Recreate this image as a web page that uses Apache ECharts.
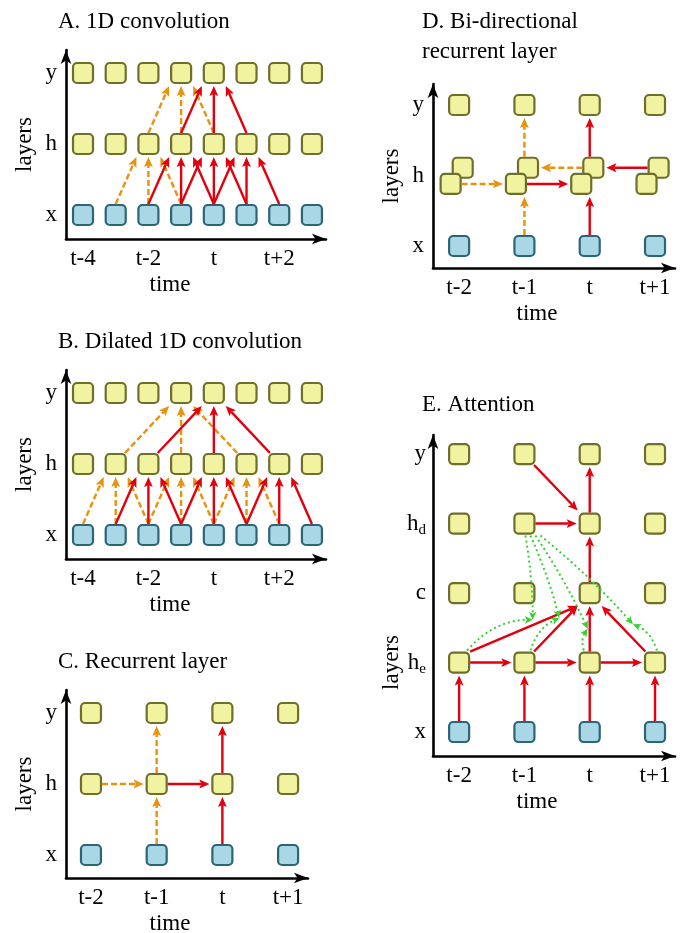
<!DOCTYPE html>
<html><head><meta charset="utf-8">
<script src="https://cdn.jsdelivr.net/npm/echarts@6/dist/echarts.min.js"></script>
<style>html,body{margin:0;padding:0;background:#fff}#c{width:686px;height:933px}</style>
</head><body><div id="c"></div>
<script>
// ---------------- data ----------------
const convTimes = ['t-4','t-3','t-2','t-1','t','t+1','t+2','t+3'];
const convTickIdx = [0, 2, 4, 6];
const rnnTimes = ['t-2','t-1','t','t+1'];
const rnnTickIdx = [0, 1, 2, 3];
const stdLayers = ['x','h','y'];
const attnLayers = ['x','h_e','c','h_d','y'];

// edges: [from, to]  (layer code + time index)
const convOrange = [['x1','h2'],['x2','h2'],['x3','h2'],['h2','y3'],['h3','y3'],['h4','y3']];
const convRed = [['x2','h3'],['x3','h3'],['x4','h3'],['x3','h4'],['x4','h4'],['x5','h4'],
                 ['x4','h5'],['x5','h5'],['x6','h5'],['h3','y4'],['h4','y4'],['h5','y4']];
const dilOrange = [['x0','h1'],['x1','h1'],['x2','h1'],['x2','h3'],['x3','h3'],['x4','h3'],
                   ['x4','h5'],['x5','h5'],['x6','h5'],['h1','y3'],['h3','y3'],['h5','y3']];
const dilRed = [['x1','h2'],['x2','h2'],['x3','h2'],['x3','h4'],['x4','h4'],['x5','h4'],
                ['x5','h6'],['x6','h6'],['x7','h6'],['h2','y4'],['h4','y4'],['h6','y4']];
const recOrange = [['h0','h1'],['x1','h1'],['h1','y1']];
const recRed = [['h1','h2'],['x2','h2'],['h2','y2']];
const biOrange = [['hf0','hf1'],['x1','hf1'],['hb1','y1'],['hb2','hb1']];
const biRed = [['hf1','hf2'],['x2','hf2'],['hb2','y2'],['hb3','hb2']];
const attnRed = [['x0','he0'],['x1','he1'],['x2','he2'],['x3','he3'],
                 ['he0','he1'],['he1','he2'],['he2','he3'],
                 ['he0','c2'],['he1','c2'],['he2','c2'],['he3','c2'],
                 ['c2','hd2'],['hd1','hd2'],['y1','hd2'],['hd2','y2']];
const attnWeights = [0, 1, 2, 3];   // encoder steps whose h_e -> c link is weighted using h_d(t-1)

// ---------------- style / layout ----------------
const FONT = 'Liberation Serif', FS = 23;
const RED = '#e2000e', ORANGE = '#e8920e', GREEN = '#37d037';
const YEL = '#f1f3a1', OLIVE = '#6f6f2c', BLUE = '#a9d7e6', TEAL = '#2b6577';
const HALF = 11, GAP = 2, LW = 2.4;
const BI_OFFSET = { hb: [0.055, 0.11], hf: [-0.13, -0.12] };
const STD_CODE = { x: 0, h: 1, y: 2, hf: 1, hb: 1 };
const ATTN_CODE = { x: 0, he: 1, c: 2, hd: 3, y: 4 };

const panels = [
  { title: 'A. 1D convolution', titlePos: [58, 7], times: convTimes, ticks: convTickIdx, layers: stdLayers, code: STD_CODE,
    grid: { left: 66, top: 50, width: 260, height: 189 }, xr: [-0.52, 7.43], yr: [-0.338, 2.324],
    orange: convOrange, red: convRed, timeShift: 26, layersShift: 0, labelMargin: 9 },
  { title: 'B. Dilated 1D convolution', titlePos: [58, 327], times: convTimes, ticks: convTickIdx, layers: stdLayers, code: STD_CODE,
    grid: { left: 66, top: 370, width: 260, height: 189 }, xr: [-0.52, 7.43], yr: [-0.338, 2.324],
    orange: dilOrange, red: dilRed, timeShift: 26, layersShift: 0, labelMargin: 9 },
  { title: 'C. Recurrent layer', titlePos: [58, 647], times: rnnTimes, ticks: rnnTickIdx, layers: stdLayers, code: STD_CODE,
    grid: { left: 66, top: 690, width: 242, height: 188 }, xr: [-0.38, 3.303], yr: [-0.324, 2.324],
    orange: recOrange, red: recRed, timeShift: 17, layersShift: 0, labelMargin: 9 },
  { title: 'D. Bi-directional\nrecurrent layer', titlePos: [422, 7], times: rnnTimes, ticks: rnnTickIdx, layers: stdLayers, code: STD_CODE, bidir: true,
    grid: { left: 433, top: 84, width: 242, height: 184 }, xr: [-0.40, 3.306], yr: [-0.312, 2.298],
    orange: biOrange, red: biRed, timeShift: 17, layersShift: 0, labelMargin: 9 },
  { title: 'E. Attention', titlePos: [422, 390], times: rnnTimes, ticks: rnnTickIdx, layers: attnLayers, code: ATTN_CODE, attention: true,
    grid: { left: 433, top: 435, width: 242, height: 321 }, xr: [-0.40, 3.306], yr: [-0.345, 4.274],
    orange: [], red: attnRed, timeShift: 17, layersShift: 67, labelMargin: 7 }
];

function resolve(p, key) {
  const m = key.match(/^([a-z]+)(\d+)$/);
  const code = m[1], i = +m[2];
  const l = p.code[code];
  const off = BI_OFFSET[code] || [0, 0];
  return { t: i + off[0], l: l + off[1], col: i };
}

function head(tip, ux, uy, color, len, hw) {
  len = len || 10; hw = hw || 4.4;
  const bx = tip[0] - ux * len, by = tip[1] - uy * len;
  return { type: 'polygon', shape: { points: [[tip[0], tip[1]], [bx - uy * hw, by + ux * hw], [bx + ux * 2, by + uy * 2], [bx + uy * hw, by - ux * hw]] },
           style: { fill: color } };
}
function arrow(p0, p1, color, dash, width) {
  const dx = p1[0] - p0[0], dy = p1[1] - p0[1], L = Math.hypot(dx, dy) || 1, ux = dx / L, uy = dy / L;
  const e = [p1[0] - ux * 8, p1[1] - uy * 8];
  const st = { stroke: color, lineWidth: width, fill: null };
  if (dash) st.lineDash = dash;
  return [{ type: 'line', shape: { x1: p0[0], y1: p0[1], x2: e[0], y2: e[1] }, style: st }, head(p1, ux, uy, color)];
}
// geometry of a link between two boxes
function ends(S, T, sameCol, colX, sameRow) {
  if (sameCol) { const sy = Math.sign(T[1] - S[1]); return [[colX, S[1] + sy * HALF], [colX, T[1] - sy * (HALF + GAP)]]; }
  if (sameRow) { const sx = Math.sign(T[0] - S[0]); return [[S[0] + sx * HALF, S[1]], [T[0] - sx * (HALF + GAP), S[1]]]; }
  const dx = T[0] - S[0], dy = T[1] - S[1], sx = Math.sign(dx), sy = Math.sign(dy);
  const k = Math.min(1, Math.max(0, (Math.abs(dx) / Math.abs(dy) - 0.5) * 2));
  return [[S[0] + sx * HALF * k, S[1] + sy * HALF], [T[0] - sx * 12, T[1] - sy * (HALF + GAP)]];
}

function edgeRenderer(color, dash) {
  return function (params, api) {
    const S = api.coord([api.value(0), api.value(1)]);
    const T = api.coord([api.value(2), api.value(3)]);
    const c1 = api.value(4), c2 = api.value(5);
    const colX = api.coord([c1, 0])[0];
    const pe = ends(S, T, c1 === c2, colX, api.value(1) === api.value(3));
    return { type: 'group', children: arrow(pe[0], pe[1], color, dash, LW) };
  };
}
function nodeRender(params, api) {
  const c = api.coord([api.value(0), api.value(1)]);
  const k = api.value(2);
  return { type: 'rect', shape: { x: c[0] - 10, y: c[1] - 10, width: 20, height: 20, r: 4 },
           style: { fill: k ? YEL : BLUE, stroke: k ? OLIVE : TEAL, lineWidth: 2.2 } };
}
// attention weight curves (green dotted)
const ATTN_F = [0.6, 0.66, 0.5, 0.45], ATTN_D = [5, 5, 2, 10], ATTN_SRC_DX = [8, 6, -6, 2];
function curve(p0, tip, bulge) {
  const dx = tip[0] - p0[0], dy = tip[1] - p0[1], L = Math.hypot(dx, dy);
  let nx = dy / L, ny = -dx / L;
  if (ny > 0 || (Math.abs(ny) < 0.05 && nx > 0)) { nx = -nx; ny = -ny; }
  const cp = [(p0[0] + tip[0]) / 2 + nx * bulge * L, (p0[1] + tip[1]) / 2 + ny * bulge * L];
  const tx = tip[0] - cp[0], ty = tip[1] - cp[1], tl = Math.hypot(tx, ty), ux = tx / tl, uy = ty / tl;
  const e = [tip[0] - ux * 6, tip[1] - uy * 6];
  return [{ type: 'bezierCurve', shape: { x1: p0[0], y1: p0[1], x2: e[0], y2: e[1], cpx1: cp[0], cpy1: cp[1] },
            style: { stroke: GREEN, lineWidth: 2, lineDash: [2, 3], fill: null } }, head(tip, ux, uy, GREEN, 8, 3.8)];
}
function attnRender(params, api) {
  const i = api.value(0);
  const he = api.coord([i, ATTN_CODE.he]), c = api.coord([2, ATTN_CODE.c]), hd = api.coord([1, ATTN_CODE.hd]);
  const pe = ends(he, c, i === 2, api.coord([i, 0])[0], false);
  const f = ATTN_F[i], d = ATTN_D[i];
  const vx = pe[1][0] - pe[0][0], vy = pe[1][1] - pe[0][1], vl = Math.hypot(vx, vy);
  let nx = vy / vl, ny = -vx / vl; if (ny > 0 || (Math.abs(ny) < 0.05 && nx > 0)) { nx = -nx; ny = -ny; }
  const P = [pe[0][0] + vx * f + nx * d, pe[0][1] + vy * f + ny * d];
  const fromHd = [hd[0] + 1 + 5 * i, hd[1] + HALF + 1];
  const fromHe = [he[0] + ATTN_SRC_DX[i], he[1] - HALF - 1];
  return { type: 'group', children: curve(fromHd, P, 0.04).concat(curve(fromHe, P, 0.22)) };
}

function rowLabel(name) {
  const m = name.match(/^(\w)_(\w)$/);
  return m ? '{m|' + m[1] + '}{s|' + m[2] + '}' : '{m|' + name + '}';
}

const grids = [], xAxes = [], yAxes = [], series = [], titles = [];
panels.forEach(function (p, gi) {
  grids.push(Object.assign({ containLabel: false, outerBoundsMode: 'none' }, p.grid));
  titles.push({ text: p.title, left: p.titlePos[0], top: p.titlePos[1], padding: 0,
    textStyle: { fontFamily: FONT, fontSize: FS, fontWeight: 'normal', color: '#000', lineHeight: 30 } });
  const lineCfg = { show: true, onZero: false, symbol: ['none', 'arrow'], symbolSize: [8, 14], lineStyle: { color: '#000', width: 2.6 } };
  xAxes.push({ gridIndex: gi, type: 'value', min: p.xr[0], max: p.xr[1], axisLine: lineCfg,
    axisTick: { show: false }, splitLine: { show: false },
    axisLabel: { customValues: p.ticks, formatter: function (v) { return p.times[Math.round(v)]; }, color: '#000', fontFamily: FONT, fontSize: FS, margin: 8 },
    name: 'time', nameLocation: 'middle', nameGap: 34,
    nameTextStyle: { color: '#000', fontFamily: FONT, fontSize: FS, padding: [0, 2 * p.timeShift, 0, 0] } });
  yAxes.push({ gridIndex: gi, type: 'value', min: p.yr[0], max: p.yr[1], axisLine: lineCfg,
    axisTick: { show: false }, splitLine: { show: false },
    axisLabel: { customValues: p.layers.map(function (_, i) { return i; }), formatter: function (v) { return rowLabel(p.layers[Math.round(v)]); },
      margin: p.labelMargin,
      rich: { m: { fontFamily: FONT, fontSize: FS, color: '#000', lineHeight: 26 },
              s: { fontFamily: FONT, fontSize: 15, color: '#000', lineHeight: 12, padding: [14, 0, 0, 0] } } },
    name: 'layers', nameLocation: 'middle', nameGap: 30,
    nameTextStyle: { color: '#000', fontFamily: FONT, fontSize: FS, padding: [0, 2 * p.layersShift, 0, 0] } });

  // nodes
  const nodes = [];
  p.layers.forEach(function (ln, l) {
    p.times.forEach(function (_, t) {
      if (p.bidir && ln === 'h') return;
      nodes.push([t, l, ln === 'x' ? 0 : 1]);
    });
  });
  if (p.bidir) {
    ['hb', 'hf'].forEach(function (code) {
      p.times.forEach(function (_, t) { const n = resolve(p, code + t); nodes.push([n.t, n.l, 1]); });
    });
  }
  series.push({ type: 'custom', xAxisIndex: gi, yAxisIndex: gi, renderItem: nodeRender, data: nodes, clip: false, silent: true,
                encode: { x: 0, y: 1 } });
  const toData = function (list) {
    return list.map(function (e) { const a = resolve(p, e[0]), b = resolve(p, e[1]); return [a.t, a.l, b.t, b.l, a.col, b.col]; });
  };
  if (p.orange.length) series.push({ type: 'custom', xAxisIndex: gi, yAxisIndex: gi, renderItem: edgeRenderer(ORANGE, [6, 3]),
    data: toData(p.orange), clip: false, silent: true, encode: { x: [0, 2], y: [1, 3] } });
  series.push({ type: 'custom', xAxisIndex: gi, yAxisIndex: gi, renderItem: edgeRenderer(RED, null),
    data: toData(p.red), clip: false, silent: true, encode: { x: [0, 2], y: [1, 3] } });
  if (p.attention) series.push({ type: 'custom', xAxisIndex: gi, yAxisIndex: gi, renderItem: attnRender,
    data: attnWeights.map(function (i) { return [i, 1]; }), clip: false, silent: true, encode: { x: 0, y: 1 } });
});

const chart = echarts.init(document.getElementById('c'), null, { renderer: 'canvas' });
chart.setOption({ animation: false, backgroundColor: '#fff', title: titles, grid: grids, xAxis: xAxes, yAxis: yAxes, series: series });
</script>
</body></html>
